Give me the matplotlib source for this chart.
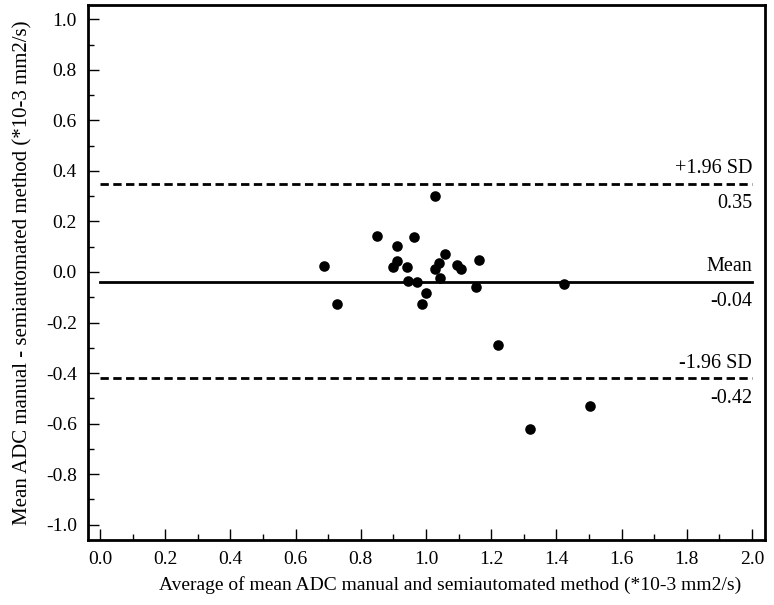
import matplotlib
matplotlib.use("Agg")
import matplotlib.pyplot as plt
import numpy as np

plt.rcParams['font.family'] = ['Liberation Serif', 'DejaVu Serif']

avg_x = [0.688, 0.726, 0.849, 0.912, 0.910, 0.898, 0.941, 0.946, 0.964, 0.973,
         1.000, 0.987, 1.027, 1.027, 1.040, 1.058, 1.044, 1.094, 1.106, 1.162,
         1.153, 1.222, 1.319, 1.423, 1.503]
diff_y = [0.024, -0.127, 0.144, 0.102, 0.045, 0.021, 0.021, -0.036, 0.140, -0.038,
          -0.084, -0.125, 0.302, 0.011, 0.037, 0.072, -0.025, 0.028, 0.013, 0.048,
          -0.059, -0.289, -0.623, -0.048, -0.531]
mean_diff = -0.038
upper_loa = 0.35
lower_loa = -0.42
mean_label = "-0.04"
upper_label = "0.35"
lower_label = "-0.42"
x_major = [0.0, 0.2, 0.4, 0.6, 0.8, 1.0, 1.2, 1.4, 1.6, 1.8, 2.0]
x_tick_labels = ["0.0", "0.2", "0.4", "0.6", "0.8", "1.0", "1.2", "1.4", "1.6", "1.8", "2.0"]
y_major = [-1.0, -0.8, -0.6, -0.4, -0.2, 0.0, 0.2, 0.4, 0.6, 0.8, 1.0]
y_tick_labels = ["-1.0", "-0.8", "-0.6", "-0.4", "-0.2", "0.0", "0.2", "0.4", "0.6", "0.8", "1.0"]

fig = plt.figure(figsize=(7.74, 6.05), dpi=100)
ax = fig.add_axes([88/774, 65/605, (765-88)/774, (540-5)/605])

ax.scatter(avg_x, diff_y, s=58, color='black', zorder=3, linewidths=0)

ax.plot([0, 2.0], [mean_diff, mean_diff], color='black', lw=2.0)
ax.plot([0, 2.0], [upper_loa, upper_loa], color='black', lw=2.0, ls=(0, (3, 1.6)))
ax.plot([0, 2.0], [lower_loa, lower_loa], color='black', lw=2.0, ls=(0, (3, 1.6)))

fs = 14.5
ax.text(2.0, upper_loa + 0.022, "+1.96 SD", ha='right', va='bottom', fontsize=fs)
ax.text(2.0, upper_loa - 0.042, upper_label, ha='right', va='top', fontsize=fs)
ax.text(2.0, mean_diff + 0.022, "Mean", ha='right', va='bottom', fontsize=fs)
ax.text(2.0, mean_diff - 0.042, mean_label, ha='right', va='top', fontsize=fs)
ax.text(2.0, lower_loa + 0.022, "-1.96 SD", ha='right', va='bottom', fontsize=fs)
ax.text(2.0, lower_loa - 0.042, lower_label, ha='right', va='top', fontsize=fs)

ax.set_xlim(-0.037, 2.040)
ax.set_ylim(-1.061, 1.057)

ax.set_xticks(x_major)
ax.set_xticklabels(x_tick_labels)
ax.set_xticks(np.round(np.arange(0.1, 2.0, 0.2), 1), minor=True)
ax.set_yticks(y_major)
ax.set_yticklabels(y_tick_labels)
ax.set_yticks(np.round(np.arange(-0.9, 1.0, 0.2), 1), minor=True)

ax.tick_params(which='both', direction='in', top=False, right=False, width=1.0, labelsize=14)
ax.tick_params(which='major', length=8, pad=8)
ax.tick_params(which='minor', length=4)

for sp in ax.spines.values():
    sp.set_linewidth(2.0)

ax.set_xlabel("Average of mean ADC manual and semiautomated method (*10-3 mm2/s)", fontsize=14, labelpad=6)
ax.xaxis.set_label_coords((450 - 88) / 677, -0.068)
ax.set_ylabel("Mean ADC manual - semiautomated method (*10-3 mm2/s)", fontsize=15, labelpad=10)

fig.savefig("out.png", dpi=100)
